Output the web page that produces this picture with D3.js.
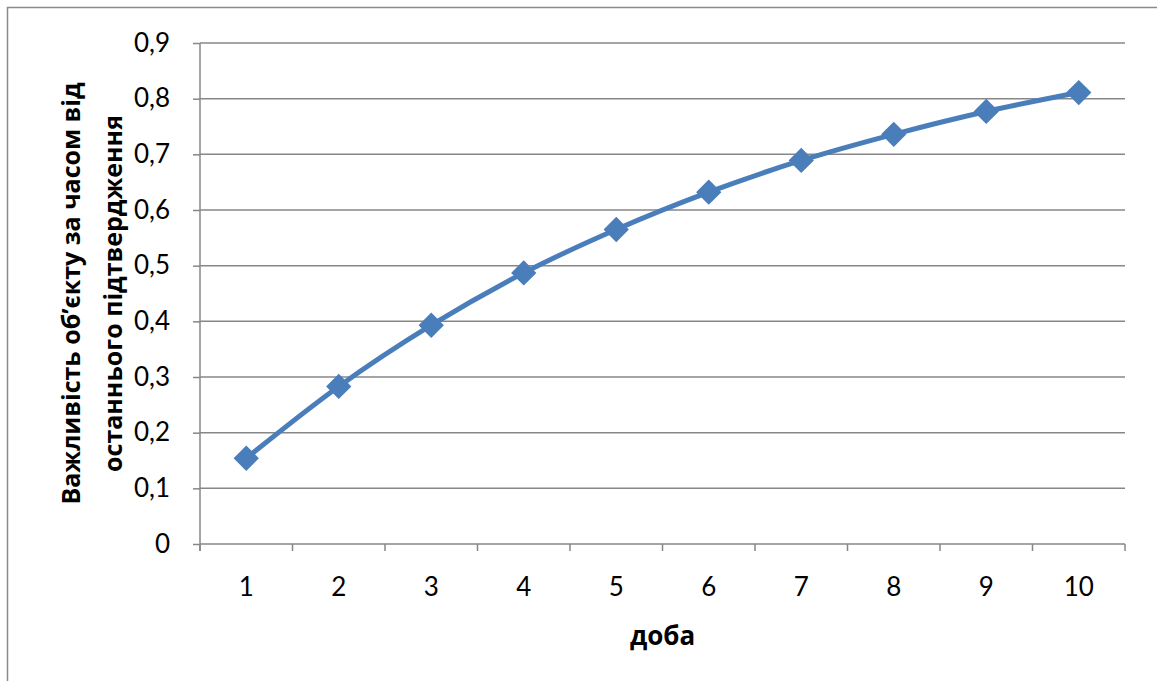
<!DOCTYPE html>
<html>
<head>
<meta charset="utf-8">
<script src="https://cdn.jsdelivr.net/npm/d3@7"></script>
<style>
  html, body { margin: 0; padding: 0; background: #fff; }
  svg { display: block; }
</style>
</head>
<body>
<svg id="chart" width="1157" height="681"></svg>
<script>
const categories = ["1", "2", "3", "4", "5", "6", "7", "8", "9", "10"];
const values = [0.154, 0.283, 0.393, 0.487, 0.565, 0.632, 0.689, 0.736, 0.777, 0.811];
const yTicks = [0, 0.1, 0.2, 0.3, 0.4, 0.5, 0.6, 0.7, 0.8, 0.9];
const yTitleLines = ["Важливість об’єкту за часом від", "останнього підтвердження"];
const xTitle = "доба";

const svg = d3.select("#chart");
const W = 1157, H = 681;
const plot = { left: 200, right: 1125, top: 43, bottom: 544 };
const gridColor = "#878787";
const lineColor = "#4A7EBB";
const numFont = "Lato, 'Noto Sans', sans-serif";
const titleFont = "'Open Sans', 'Noto Sans', sans-serif";

svg.append("rect").attr("width", W).attr("height", H).attr("fill", "#fff");
// outer chart border
svg.append("rect")
  .attr("x", 7.5).attr("y", 7.5)
  .attr("width", W + 20).attr("height", H + 20)
  .attr("fill", "none").attr("stroke", "#8a8a8a").attr("stroke-width", 1.5);

const x = d3.scaleBand().domain(categories).range([plot.left, plot.right]).padding(0);
const y = d3.scaleLinear().domain([0, 0.9]).range([plot.bottom, plot.top]);

// gridlines
svg.append("g").selectAll("line").data(yTicks.filter(d => d > 0)).join("line")
  .attr("x1", plot.left).attr("x2", plot.right)
  .attr("y1", d => y(d)).attr("y2", d => y(d))
  .attr("stroke", gridColor).attr("stroke-width", 1.5);

// y axis
const yAxis = d3.axisLeft(y).tickValues(yTicks).tickSize(7).tickPadding(23)
  .tickFormat(d => d3.format(".1f")(d).replace(".", ",").replace(/^0,0$/, "0"));
const gy = svg.append("g").attr("transform", `translate(${plot.left},0)`).call(yAxis);
gy.select(".domain").remove();
gy.append("line").attr("x1", 0).attr("x2", 0).attr("y1", plot.top).attr("y2", plot.bottom + 7)
  .attr("stroke", gridColor).attr("stroke-width", 1.5);
gy.selectAll(".tick line").attr("stroke", gridColor).attr("stroke-width", 1.5);
gy.selectAll(".tick text").attr("font-family", numFont).attr("font-size", 26).attr("fill", "#000");

// x axis
const xAxis = d3.axisBottom(x).tickSize(0).tickPadding(34);
const gx = svg.append("g").attr("transform", `translate(0,${plot.bottom})`).call(xAxis);
gx.select(".domain").remove();
gx.append("line").attr("x1", plot.left).attr("x2", plot.right).attr("y1", 0).attr("y2", 0)
  .attr("stroke", gridColor).attr("stroke-width", 1.5);
const bounds = categories.map(c => x(c)).concat([x(categories[categories.length - 1]) + x.bandwidth()]);
gx.selectAll(".bt").data(bounds).join("line").attr("class", "bt")
  .attr("x1", d => d).attr("x2", d => d).attr("y1", 0).attr("y2", 7)
  .attr("stroke", gridColor).attr("stroke-width", 1.5);
gx.selectAll(".tick text").attr("font-family", numFont).attr("font-size", 26).attr("fill", "#000");

// axis titles
const yt = svg.append("text")
  .attr("transform", `translate(0,${(plot.top + plot.bottom) / 2}) rotate(-90)`)
  .attr("text-anchor", "middle").attr("font-family", titleFont)
  .attr("font-weight", "bold").attr("font-size", 25).attr("fill", "#000");
yt.selectAll("tspan").data(yTitleLines).join("tspan")
  .attr("x", 0).attr("y", (d, i) => i === 0 ? 80 : 122)
  .text(d => d);

svg.append("text")
  .attr("x", (plot.left + plot.right) / 2).attr("y", 645)
  .attr("text-anchor", "middle").attr("font-family", titleFont)
  .attr("font-weight", "bold").attr("font-size", 26).attr("fill", "#000")
  .text(xTitle);

// series line
const cx = c => x(c) + x.bandwidth() / 2;
const line = d3.line().x((d, i) => cx(categories[i])).y(d => y(d)).curve(d3.curveMonotoneX);
svg.append("path").datum(values).attr("d", line)
  .attr("fill", "none").attr("stroke", lineColor).attr("stroke-width", 5)
  .attr("stroke-linejoin", "round");

// diamond markers
const diamond = d3.symbol().type(d3.symbolSquare).size(320);
svg.append("g").selectAll("path").data(values).join("path")
  .attr("d", diamond)
  .attr("transform", (d, i) => `translate(${cx(categories[i])},${y(d)}) rotate(45)`)
  .attr("fill", lineColor);
</script>
</body>
</html>
